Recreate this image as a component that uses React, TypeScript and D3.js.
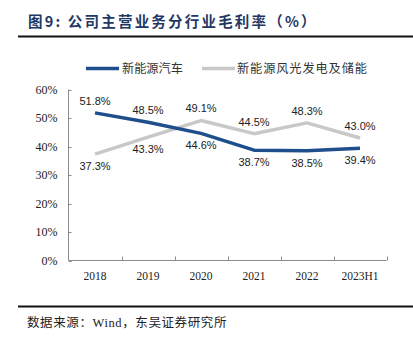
import React from "react";
import * as d3 from "d3";

const categories = ["2018", "2019", "2020", "2021", "2022", "2023H1"];
const autoValues = [51.8, 48.5, 44.6, 38.7, 38.5, 39.4];
const energyValues = [37.3, 43.3, 49.1, 44.5, 48.3, 43.0];
const autoLabelAbove = [true, true, false, false, false, false];
const energyLabelAbove = [false, false, true, true, true, true];
const yTicks = [0, 10, 20, 30, 40, 50, 60];
const seriesNames = ["新能源汽车", "新能源风光发电及储能"];

const W = 413;
const H = 344;
const left = 68.5;
const right = 386.5;
const top = 89.5;
const bottom = 260.5;
const BLUE = "#1F4E8C";
const GRAY = "#C8C8C8";
const AXIS = "#8C8C8C";
const serif = "'Liberation Serif', 'Times New Roman', serif";
const sans = "'Liberation Sans', Arial, sans-serif";
const cjk = "'Noto Sans CJK SC', sans-serif";

export default function App() {
  const x = d3.scaleBand<string>().domain(categories).range([left, right]).padding(0);
  const y = d3.scaleLinear().domain([0, 60]).range([bottom, top]);
  const cx = (c: string) => (x(c) as number) + x.bandwidth() / 2;
  const line = d3
    .line<number>()
    .x((_, i) => cx(categories[i]))
    .y((d) => y(d));

  const labels = (vals: number[], above: boolean[]) =>
    vals.map((v, i) => (
      <text
        key={i}
        x={cx(categories[i])}
        y={y(v) + (above[i] ? -12 : 12)}
        dy="0.35em"
        textAnchor="middle"
        fontFamily={sans}
        fontSize={11}
        fill="#222"
      >
        {v.toFixed(1)}%
      </text>
    ));

  const boundaries = categories.map((c) => (x(c) as number) + x.bandwidth());

  return (
    <div style={{ position: "absolute", left: 0, top: 0 }}>
      <svg width={W} height={H} style={{ display: "block", background: "#fff" }}>
        {/* Title */}
        <text
          x={28}
          y={27}
          fontFamily={cjk}
          fontWeight={700}
          fontSize={14.5}
          letterSpacing={2.2}
          fill="#1F3864"
        >
          图9: 公司主营业务分行业毛利率（%）
        </text>
        <line x1={18} x2={413} y1={36.5} y2={36.5} stroke="#111" strokeWidth={2} />

        {/* Legend */}
        <line x1={86} x2={119} y1={68.5} y2={68.5} stroke={BLUE} strokeWidth={3.5} />
        <text x={122} y={68.5} dy="0.35em" fontFamily={cjk} fontSize={12.2} fill="#333">
          {seriesNames[0]}
        </text>
        <line x1={202} x2={235} y1={68.5} y2={68.5} stroke={GRAY} strokeWidth={3.5} />
        <text x={237} y={68.5} dy="0.35em" fontFamily={cjk} fontSize={12.2} fill="#333" letterSpacing={0.9}>
          {seriesNames[1]}
        </text>

        {/* Axes */}
        <line x1={left} x2={left} y1={top} y2={bottom} stroke={AXIS} strokeWidth={1} />
        <line x1={left} x2={right} y1={bottom} y2={bottom} stroke={AXIS} strokeWidth={1} />
        {yTicks.map((t) => (
          <g key={t}>
            <line x1={left} x2={left + 3} y1={Math.round(y(t)) + 0.5} y2={Math.round(y(t)) + 0.5} stroke={AXIS} />
            <text
              x={57.5}
              y={y(t)}
              dy="0.35em"
              textAnchor="end"
              fontFamily={serif}
              fontSize={12}
              fill="#222"
            >
              {t}%
            </text>
          </g>
        ))}
        {boundaries.map((b, i) => (
          <line key={i} x1={Math.round(b) + 0.5} x2={Math.round(b) + 0.5} y1={bottom} y2={bottom - 4} stroke={AXIS} />
        ))}
        {categories.map((c) => (
          <text
            key={c}
            x={cx(c)}
            y={276}
            dy="0.35em"
            textAnchor="middle"
            fontFamily={serif}
            fontSize={11.5}
            fill="#222"
          >
            {c}
          </text>
        ))}

        {/* Lines */}
        <path d={line(energyValues) || ""} fill="none" stroke={GRAY} strokeWidth={3.5} strokeLinejoin="round" />
        <path d={line(autoValues) || ""} fill="none" stroke={BLUE} strokeWidth={3.5} strokeLinejoin="round" />

        {labels(autoValues, autoLabelAbove)}
        {labels(energyValues, energyLabelAbove)}

        {/* Footer */}
        <line x1={18} x2={413} y1={306.5} y2={306.5} stroke="#111" strokeWidth={2} />
        <text x={27} y={323} dy="0.35em" fontFamily={cjk} fontSize={12.5} fill="#222" letterSpacing={0.6}>
          数据来源：<tspan fontFamily={serif}>Wind</tspan>，东吴证券研究所
        </text>
      </svg>
    </div>
  );
}
